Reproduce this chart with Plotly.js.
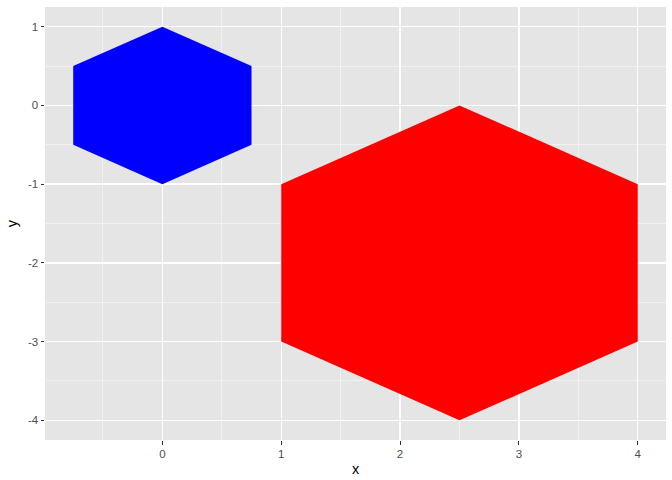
<!DOCTYPE html>
<html><head><meta charset="utf-8">
<script src="https://cdn.plot.ly/plotly-3.0.1.min.js"></script>
<style>body{margin:0;}#chart{width:672px;height:480px;}</style>
</head><body><div id="chart"></div>
<script>
const blueX = [0, 0.75, 0.75, 0, -0.75, -0.75, 0];
const blueY = [1, 0.5, -0.5, -1, -0.5, 0.5, 1];
const redX = [2.5, 4, 4, 2.5, 1, 1, 2.5];
const redY = [0, -1, -3, -4, -3, -1, 0];
const xTicks = [0, 1, 2, 3, 4];
const yTicks = [1, 0, -1, -2, -3, -4];

const traces = [
  {x: blueX, y: blueY, type: 'scatter', mode: 'lines', fill: 'toself', fillcolor: '#0000FF', line: {width: 0, color: '#0000FF'}, hoverinfo: 'skip'},
  {x: redX, y: redY, type: 'scatter', mode: 'lines', fill: 'toself', fillcolor: '#FF0000', line: {width: 0, color: '#FF0000'}, hoverinfo: 'skip'}
];
const axisCommon = {
  showline: false, zeroline: false, gridcolor: '#FFFFFF', gridwidth: 1.3,
  ticks: 'outside', ticklen: 3.5, tickcolor: '#333333', tickwidth: 1.1,
  tickfont: {family: 'Liberation Sans, Arial, sans-serif', size: 11.5, color: '#4D4D4D'},
  minor: {dtick: 0.5, showgrid: true, gridcolor: '#F7F7F7', gridwidth: 0.65, ticks: ''}
};
const layout = {
  width: 672, height: 480, showlegend: false,
  paper_bgcolor: '#FFFFFF', plot_bgcolor: '#E5E5E5',
  margin: {l: 45, r: 6, t: 7, b: 40},
  xaxis: Object.assign({}, axisCommon, {range: [-0.9875, 4.2375], tickvals: xTicks, ticktext: xTicks.map(String),
    title: {text: 'x', font: {family: 'Liberation Sans, Arial, sans-serif', size: 14.5, color: '#000000'}, standoff: 4}}),
  yaxis: Object.assign({}, axisCommon, {range: [-4.25, 1.25], tickvals: yTicks, ticktext: yTicks.map(String),
    title: {text: 'y', font: {family: 'Liberation Sans, Arial, sans-serif', size: 14.5, color: '#000000'}, standoff: 6}})
};
Plotly.newPlot('chart', traces, layout, {staticPlot: true, displayModeBar: false});
</script></body></html>
